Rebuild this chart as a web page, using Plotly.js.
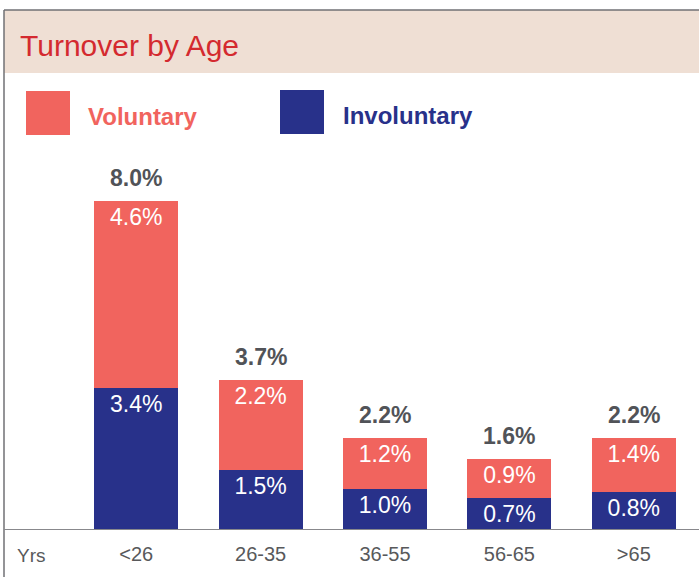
<!DOCTYPE html>
<html>
<head>
<meta charset="utf-8">
<script src="https://cdn.plot.ly/plotly-3.0.1.min.js"></script>
<style>html,body{margin:0;padding:0;background:#fff;}#chart{width:699px;height:577px;}</style>
</head>
<body>
<div id="chart"></div>
<script>
// ---- data ----
const categories = ['<26', '26-35', '36-55', '56-65', '>65'];
const involuntary = [3.45, 1.47, 1.01, 0.77, 0.92];
const voluntary = [4.57, 2.19, 1.22, 0.97, 1.31];
const involuntaryLabels = ['3.4%', '1.5%', '1.0%', '0.7%', '0.8%'];
const voluntaryLabels = ['4.6%', '2.2%', '1.2%', '0.9%', '1.4%'];
const totalLabels = ['8.0%', '3.7%', '2.2%', '1.6%', '2.2%'];
const seriesNames = ['Voluntary', 'Involuntary'];
const axisPrefix = 'Yrs';
const chartTitle = 'Turnover by Age';

// ---- style ----
const W = 699, H = 577;
const M = {l: 74, r: 3, t: 80, b: 47};
const PW = W - M.l - M.r, PH = H - M.t - M.b;
const px2x = X => (X - M.l) / PW;
const px2y = Y => (H - M.b - Y) / PH;
const CORAL = '#F1645E', NAVY = '#28318A';
const SANS = '"Liberation Sans", Arial, sans-serif';

const totals = involuntary.map((v, i) => v + voluntary[i]);

const traces = [
  {
    type: 'bar', name: seriesNames[1], x: categories, y: involuntary,
    marker: {color: NAVY}, text: involuntaryLabels, texttemplate: '%{text}',
    textposition: 'inside', insidetextanchor: 'end', constraintext: 'none',
    textfont: {family: SANS, size: 23, color: '#ffffff'}, hoverinfo: 'skip', showlegend: false
  },
  {
    type: 'bar', name: seriesNames[0], x: categories, y: voluntary,
    marker: {color: CORAL}, text: voluntaryLabels, texttemplate: '%{text}',
    textposition: 'inside', insidetextanchor: 'end', constraintext: 'none',
    textfont: {family: SANS, size: 23, color: '#ffffff'}, hoverinfo: 'skip', showlegend: false
  }
];

const annotations = categories.map((c, i) => ({
  x: c, y: totals[i], xref: 'x', yref: 'y', text: totalLabels[i], showarrow: false,
  yanchor: 'bottom', yshift: 8, font: {family: SANS, size: 23, color: '#515358', weight: 'bold'}
}));
annotations.push({
  xref: 'paper', yref: 'paper', x: px2x(15), y: px2y(555), xanchor: 'left', yanchor: 'middle',
  text: axisPrefix, showarrow: false, font: {family: SANS, size: 19, color: '#58595B'}
});
annotations.push({
  xref: 'paper', yref: 'paper', x: px2x(86), y: px2y(117), xanchor: 'left', yanchor: 'middle',
  text: seriesNames[0], showarrow: false, font: {family: SANS, size: 24, color: CORAL, weight: 'bold'}
});
annotations.push({
  xref: 'paper', yref: 'paper', x: px2x(341), y: px2y(116), xanchor: 'left', yanchor: 'middle',
  text: seriesNames[1], showarrow: false, font: {family: SANS, size: 24, color: NAVY, weight: 'bold'}
});

const shapes = [
  {type: 'rect', xref: 'paper', yref: 'paper', x0: px2x(4), x1: px2x(700), y0: px2y(73), y1: px2y(10),
   fillcolor: '#EFDFD4', line: {width: 0}, layer: 'below'},
  {type: 'line', xref: 'paper', yref: 'paper', x0: px2x(4), x1: px2x(700), y0: px2y(10), y1: px2y(10),
   line: {color: '#707074', width: 1.5}},
  {type: 'line', xref: 'paper', yref: 'paper', x0: px2x(4), x1: px2x(4), y0: px2y(10), y1: px2y(578),
   line: {color: '#707074', width: 1.5}},
  {type: 'rect', xref: 'paper', yref: 'paper', x0: px2x(26), x1: px2x(70), y0: px2y(135), y1: px2y(91),
   fillcolor: CORAL, line: {width: 0}},
  {type: 'rect', xref: 'paper', yref: 'paper', x0: px2x(280), x1: px2x(324), y0: px2y(134), y1: px2y(90),
   fillcolor: NAVY, line: {width: 0}},
  {type: 'line', xref: 'paper', yref: 'y', x0: px2x(4), x1: px2x(700), y0: 0, y1: 0,
   line: {color: '#88888C', width: 2}}
];

const layout = {
  width: W, height: H, margin: M,
  paper_bgcolor: '#ffffff', plot_bgcolor: 'rgba(0,0,0,0)',
  barmode: 'stack', bargap: 0.325,
  title: {text: chartTitle, x: 20 / W, xanchor: 'left', xref: 'container', y: 1 - 45 / H, yref: 'container', yanchor: 'middle',
          font: {family: SANS, size: 30, color: '#D42A2F'}},
  xaxis: {type: 'category', showgrid: false, zeroline: false, showline: false, ticks: '',
          tickfont: {family: SANS, size: 20, color: '#58595B'}, ticklabelstandoff: 10, fixedrange: true},
  yaxis: {range: [0, PH / 41.06], showgrid: false, zeroline: false, showline: false, showticklabels: false, ticks: '', fixedrange: true},
  annotations: annotations, shapes: shapes, showlegend: false
};

Plotly.newPlot('chart', traces, layout, {displayModeBar: false, staticPlot: true});
</script>
</body>
</html>
